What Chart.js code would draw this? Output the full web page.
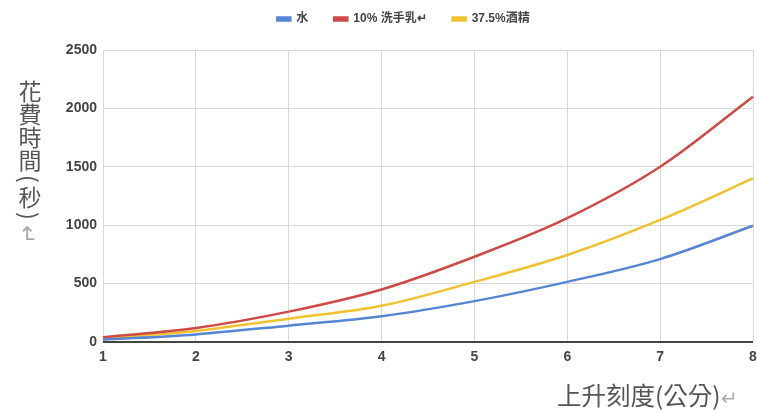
<!DOCTYPE html>
<html>
<head>
<meta charset="utf-8">
<script src="https://cdn.jsdelivr.net/npm/chart.js@4"></script>
<style>
  html, body { margin: 0; padding: 0; background: #fff; }
  #wrap { position: relative; width: 759px; height: 412px; overflow: hidden; }
  #chart { position: absolute; left: 0; top: 0; }
  .ytitle {
    position: absolute; left: 17px; top: 80px;
    writing-mode: vertical-rl; text-orientation: mixed;
    font-family: "Noto Sans CJK TC", "Noto Sans CJK SC", sans-serif;
    font-size: 23px; line-height: 26px; color: #555;
  }
  .ytitle .paren { margin-inline: 3px 3px; }
  .xtitle {
    position: absolute; left: 557px; top: 380px;
    font-family: "Noto Sans CJK TC", "Noto Sans CJK SC", sans-serif;
    font-size: 24.5px; line-height: 30px; color: #555; white-space: nowrap;
  }
  .ret { color: #aaa; font-size: 0.8em; }
  .ytitle .ret { font-size: 1em; margin-inline-start: 2px; }
</style>
</head>
<body>
<div id="wrap">
  <canvas id="chart" width="759" height="412"></canvas>
  <div class="ytitle">花費時間<span class="paren">(</span>秒<span class="paren">)</span><span class="ret">↵</span></div>
  <div class="xtitle">上升刻度(公分)<span class="ret">↵</span></div>
</div>
<script>
// Rise in scale (cm) and the time taken (s) for each liquid
const levels = ['1', '2', '3', '4', '5', '6', '7', '8'];
const waterTimes = [20, 65, 140, 220, 350, 515, 710, 995];
const soapTimes = [40, 120, 260, 450, 730, 1060, 1500, 2100];
const alcoholTimes = [30, 95, 200, 310, 515, 745, 1045, 1400];
const seriesNames = ['水', '10% 洗手乳↵', '37.5%酒精'];
const yTicks = [0, 500, 1000, 1500, 2000, 2500];

const colors = ['#5585d4', '#cf4a45', '#f2c12e'];
const tickFont = { family: '"Liberation Sans", Arial, sans-serif', size: 14, weight: 'bold' };

const makeSet = (label, data, color) => ({
  label, data,
  borderColor: color, backgroundColor: color,
  borderWidth: 2.5, pointRadius: 0, pointHoverRadius: 0,
  cubicInterpolationMode: 'monotone', fill: false
});

new Chart(document.getElementById('chart'), {
  type: 'line',
  data: {
    labels: levels,
    datasets: [
      makeSet(seriesNames[0], waterTimes, colors[0]),
      makeSet(seriesNames[1], soapTimes, colors[1]),
      makeSet(seriesNames[2], alcoholTimes, colors[2])
    ]
  },
  options: {
    responsive: false,
    animation: false,
    events: [],
    layout: { padding: { top: -13, left: 48, right: 0, bottom: 0 } },
    plugins: {
      legend: {
        position: 'top',
        labels: {
          boxWidth: 13, boxHeight: 3, padding: 26,
          color: '#444',
          font: { family: '"Liberation Sans", "Noto Sans CJK TC", sans-serif', size: 12, weight: 'bold' }
        }
      },
      tooltip: { enabled: false }
    },
    scales: {
      x: {
        type: 'category', offset: false,
        grid: { color: '#d9d9d9', lineWidth: 1, drawTicks: false },
        border: { display: false },
        ticks: { color: '#444', font: tickFont, padding: 7, maxRotation: 0 },
        afterFit(s) { s.height = 70; s.paddingLeft = 0; s.paddingRight = 6; }
      },
      xTop: {
        type: 'category', position: 'top', labels: levels,
        grid: { display: false }, border: { display: false },
        ticks: { display: false },
        afterFit(s) { s.height = 15; s.paddingLeft = 0; s.paddingRight = 0; }
      },
      y: {
        min: 0, max: 2500,
        afterBuildTicks(s) { s.ticks = yTicks.map(v => ({ value: v })); },
        grid: {
          color: c => (c.tick && c.tick.value === 0 ? '#444' : '#d9d9d9'),
          lineWidth: c => (c.tick && c.tick.value === 0 ? 2 : 1),
          drawTicks: false
        },
        border: { display: false },
        ticks: { color: '#444', font: tickFont, padding: 6, callback: v => String(v) },
        afterFit(s) { s.width = 55; }
      }
    }
  }
});
</script>
</body>
</html>
